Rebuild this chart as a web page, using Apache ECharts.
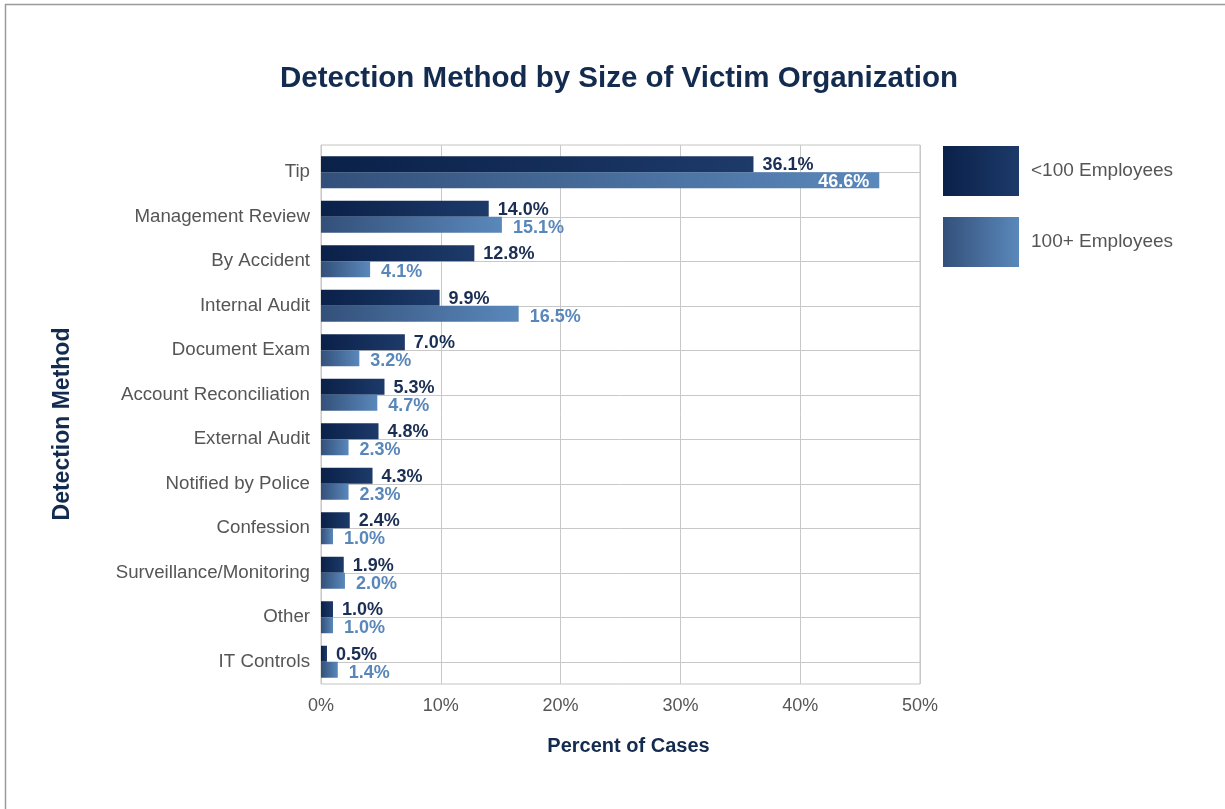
<!DOCTYPE html>
<html>
<head>
<meta charset="utf-8">
<script src="https://cdn.jsdelivr.net/npm/echarts@6/dist/echarts.min.js"></script>
<style>
html,body{margin:0;padding:0;background:#fff;}
#chart{width:1225px;height:809px;}
</style>
</head>
<body>
<div id="chart"></div>
<script>
const categories = ['Tip','Management Review','By Accident','Internal Audit','Document Exam','Account Reconciliation','External Audit','Notified by Police','Confession','Surveillance/Monitoring','Other','IT Controls'];
const smallOrg = [36.1,14.0,12.8,9.9,7.0,5.3,4.8,4.3,2.4,1.9,1.0,0.5];
const largeOrg = [46.6,15.1,4.1,16.5,3.2,4.7,2.3,2.3,1.0,2.0,1.0,1.4];
const seriesNames = ['<100 Employees','100+ Employees'];
const xTicks = {min:0, max:50, interval:10};

const FONT = 'Liberation Sans, Arial, Helvetica, sans-serif';
const NAVY = '#132b4f';
const darkGrad = new echarts.graphic.LinearGradient(0,0,1,0,[{offset:0,color:'#0a2149'},{offset:1,color:'#1d3a69'}]);
const lightGrad = new echarts.graphic.LinearGradient(0,0,1,0,[{offset:0,color:'#33507a'},{offset:1,color:'#5a88bb'}]);
const fmt = v => v.toFixed(1) + '%';

const chart = echarts.init(document.getElementById('chart'), null, {renderer:'canvas'});
const option = {
  animation:false,
  backgroundColor:'#ffffff',
  textStyle:{fontFamily:FONT},
  title:{
    text:'Detection Method by Size of Victim Organization',
    left:614, top:59, textAlign:'center',
    textStyle:{fontSize:29.5, fontWeight:'bold', color:NAVY, fontFamily:FONT}
  },
  legend:{
    orient:'vertical', left:943, top:146, padding:0,
    itemWidth:76, itemHeight:50, itemGap:21,
    icon:'rect',
    data:seriesNames,
    textStyle:{fontSize:19, color:'#555555', fontFamily:FONT, padding:[0,0,0,7]}
  },
  grid:[
    {left:321, right:305, top:150, height:534, containLabel:false},
    {left:321, right:305, top:145, height:539, show:true, borderColor:'#c4c4c4', borderWidth:1, backgroundColor:'transparent'}
  ],
  xAxis:[
    {gridIndex:0, type:'value', min:xTicks.min, max:xTicks.max, interval:xTicks.interval,
     axisLine:{show:false}, axisTick:{show:false}, splitLine:{show:false},
     axisLabel:{formatter:'{value}%', fontSize:18, color:'#555555', margin:13, fontFamily:FONT},
     name:'Percent of Cases', nameLocation:'middle', nameGap:52,
     nameTextStyle:{fontSize:20, fontWeight:'bold', color:NAVY, fontFamily:FONT, padding:[0,0,0,16]}},
    {gridIndex:1, type:'value', min:xTicks.min, max:xTicks.max, interval:xTicks.interval,
     axisLine:{show:false}, axisTick:{show:false}, axisLabel:{show:false},
     splitLine:{show:true, lineStyle:{color:'#c8c8c8', width:1}}}
  ],
  yAxis:[
    {gridIndex:0, type:'category', data:categories, inverse:true,
     axisLine:{show:false}, axisTick:{show:false}, splitLine:{show:false},
     axisLabel:{fontSize:18.7, color:'#555555', margin:11, fontFamily:FONT},
     name:'Detection Method', nameLocation:'middle', nameGap:247, nameRotate:90,
     nameTextStyle:{fontSize:23, fontWeight:'bold', color:NAVY, fontFamily:FONT, padding:[0,14,0,0]}},
    {gridIndex:1, type:'value', show:false, splitLine:{show:false}}
  ],
  series:[
    {name:'hlines', type:'line', xAxisIndex:0, yAxisIndex:0, data:[], z:1, silent:true,
     markLine:{silent:true, z:1, symbol:['none','none'], label:{show:false},
       lineStyle:{color:'#c8c8c8', type:'solid', width:1},
       data:categories.map(c => ({yAxis:c}))}},
    {name:seriesNames[0], type:'bar', xAxisIndex:0, yAxisIndex:0, data:smallOrg, barWidth:16, barGap:'0%', z:3,
     itemStyle:{color:darkGrad},
     label:{show:true, position:'right', distance:9, offset:[0,1], formatter:p => fmt(p.value),
       fontSize:18, fontWeight:'bold', color:'#1b2e54', fontFamily:FONT}},
    {name:seriesNames[1], type:'bar', xAxisIndex:0, yAxisIndex:0, barWidth:16, barGap:'0%', z:3,
     data:largeOrg.map((v,i) => i === 0 ? {value:v, label:{position:'insideRight', distance:10, offset:[0,2], color:'#ffffff'}} : v),
     itemStyle:{color:lightGrad},
     label:{show:true, position:'right', distance:11, offset:[0,3], formatter:p => fmt(p.value),
       fontSize:18, fontWeight:'bold', color:'#5a87ba', fontFamily:FONT}}
  ],
  graphic:[
    {type:'rect', silent:true, shape:{x:5.5, y:4.5, width:1400, height:1000},
     style:{fill:'none', stroke:'#9a9a9a', lineWidth:1.5}}
  ]
};
chart.setOption(option);
</script>
</body>
</html>
